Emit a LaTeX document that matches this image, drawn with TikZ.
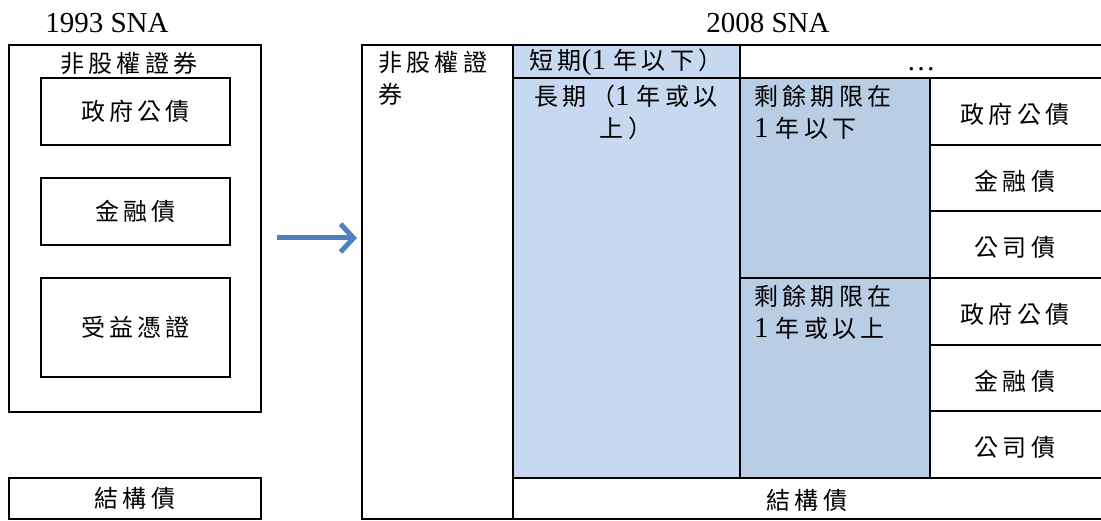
\documentclass[tikz,border=0pt]{standalone}
\usepackage{fontspec}
\setmainfont{Liberation Serif}
\newfontfamily\cjk[LetterSpace=18]{Noto Sans CJK TC}
\usetikzlibrary{arrows.meta}
\definecolor{ltblue}{HTML}{C6D9F1}
\definecolor{mdblue}{HTML}{B9CDE5}
\definecolor{arrowblue}{HTML}{4F81BD}
\newcommand\lat[1]{{\fontsize{29}{31.5}\rmfamily #1}}
\begin{document}
\begin{tikzpicture}[x=1pt,y=-1pt,
  frame/.style={draw=black,line width=1.8pt},
  zh/.style={font=\fontsize{24}{31.5}\cjk, inner sep=0pt},
  boxnode/.style={frame, zh, minimum width=189pt},
  ttl/.style={font=\fontsize{29}{31.5}\rmfamily, inner sep=0pt, anchor=base}]
\useasboundingbox (0,0) rectangle (1101,521);
\fill[white] (0,0) rectangle (1101,521);
% titles
\node[ttl] (t93) at (107,33) {1993 SNA};
\node[ttl] (t08) at (768,33) {2008 SNA};
% 1993 side
\draw[frame] (9,45) rectangle (261,412);
\node[zh] (lhead) at (129,63) {非股權證券};
\node[boxnode, minimum height=67pt] (lgov) at (135.5,111.5) {政府公債};
\node[boxnode, minimum height=67pt] (lfin) at (135.5,211.5) {金融債};
\node[boxnode, minimum height=99pt] (lben) at (135.5,327.5) {受益憑證};
\node[frame, zh, minimum width=252pt, minimum height=41pt] (lstr) at (135,498.5) {結構債};
% arrow
\coordinate (arrs) at (277,238);
\coordinate (arre) at (357,238);
\draw[line width=5pt, arrowblue, -{Straight Barb[length=13pt,width=28pt]}] (arrs) -- (arre);
% 2008 side fills
\fill[ltblue] (513,45) rectangle (740,478);
\fill[mdblue] (740,78) rectangle (930,478);
% grid lines
\draw[frame] (1104,45) -- (362,45) -- (362,519) -- (1104,519);
\draw[frame] (513,45) -- (513,519);
\draw[frame] (740,45) -- (740,478);
\draw[frame] (930,78) -- (930,478);
\draw[frame] (513,78) -- (1104,78);
\draw[frame] (930,144.7) -- (1104,144.7);
\draw[frame] (930,211.3) -- (1104,211.3);
\draw[frame] (740,278) -- (1104,278);
\draw[frame] (930,344.7) -- (1104,344.7);
\draw[frame] (930,411.3) -- (1104,411.3);
\draw[frame] (513,478) -- (1104,478);
% 2008 texts
\node[zh, anchor=north west, align=left] (rhead) at (378,51) {非股權證\\券};
\node[zh] (rshort) at (626,62) {短期\lat{(1\ }年以下）};
\node[ttl] (rdots) at (921,71) {\dots};
\node[zh, anchor=north, align=center] (rlong) at (626,85) {長期（\lat{1\ }年或以\\上）};
\node[zh, anchor=north west, align=left] (rres1) at (754,85) {剩餘期限在\\\lat{1\ }年以下};
\node[zh, anchor=north west, align=left] (rres2) at (754,285) {剩餘期限在\\\lat{1\ }年或以上};
\node[zh] (rgov1) at (1015,114) {政府公債};
\node[zh] (rfin1) at (1015,181) {金融債};
\node[zh] (rcor1) at (1015,247) {公司債};
\node[zh] (rgov2) at (1015,314) {政府公債};
\node[zh] (rfin2) at (1015,381) {金融債};
\node[zh] (rcor2) at (1015,447) {公司債};
\node[zh] (rstr) at (807,500) {結構債};
\end{tikzpicture}
\end{document}
